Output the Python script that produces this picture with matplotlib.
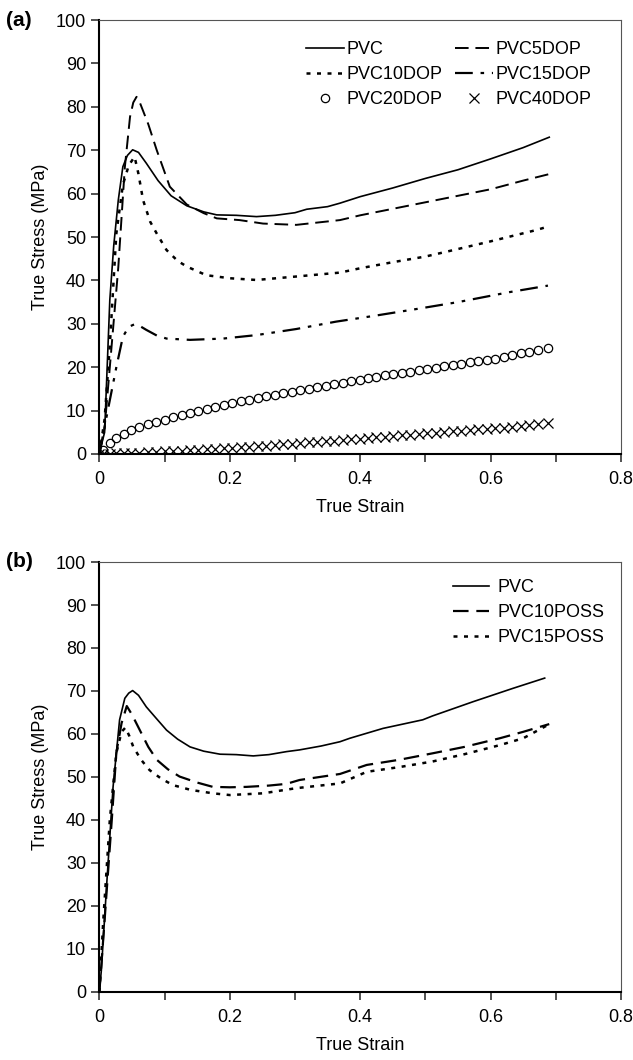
import matplotlib
matplotlib.use("Agg")
import matplotlib.pyplot as plt
from matplotlib.ticker import MultipleLocator, FuncFormatter

plt.rcParams["font.family"] = ["Liberation Sans", "DejaVu Sans"]
plt.rcParams["font.size"] = 13

# ---- panel (a): DOP plasticised PVC ----
pvc_x = [0.0, 0.003, 0.008, 0.016, 0.022, 0.029, 0.036, 0.043, 0.051, 0.06, 0.072, 0.09, 0.11,
         0.134, 0.16, 0.18, 0.21, 0.241, 0.27, 0.3, 0.318, 0.35, 0.369, 0.4, 0.45, 0.5, 0.55,
         0.6, 0.65, 0.69]
pvc_y = [0.0, 2.0, 5.0, 35.5, 48.0, 58.5, 66.2, 68.8, 70.1, 69.5, 67.0, 63.0, 59.5,
         57.2, 55.8, 55.1, 55.0, 54.7, 55.0, 55.6, 56.4, 57.0, 57.8, 59.3, 61.3, 63.5, 65.5,
         68.0, 70.6, 73.0]

dop5_x = [0.0, 0.008, 0.016, 0.029, 0.039, 0.047, 0.052, 0.057, 0.062, 0.075, 0.088, 0.108,
          0.134, 0.16, 0.18, 0.215, 0.251, 0.302, 0.369, 0.4, 0.45, 0.5, 0.55, 0.6, 0.65, 0.69]
dop5_y = [0.0, 6.0, 20.0, 43.0, 66.0, 77.7, 81.0, 82.3, 81.0, 76.0, 70.0, 61.6,
          57.5, 55.5, 54.3, 53.9, 53.1, 52.8, 53.9, 55.0, 56.5, 58.0, 59.5, 61.0, 63.0, 64.5]

dop10_x = [0.0, 0.008, 0.016, 0.026, 0.036, 0.045, 0.054, 0.06, 0.067, 0.078, 0.088, 0.103,
           0.12, 0.134, 0.164, 0.2, 0.241, 0.302, 0.369, 0.4, 0.45, 0.5, 0.532, 0.6, 0.67, 0.69]
dop10_y = [0.0, 8.0, 25.0, 50.8, 62.0, 66.5, 68.5, 64.5, 58.5, 53.5, 50.8, 47.0,
           44.5, 43.2, 41.2, 40.5, 40.1, 40.9, 41.8, 42.8, 44.2, 45.5, 46.6, 49.0, 51.6, 52.5]

dop15_x = [0.0, 0.011, 0.026, 0.036, 0.045, 0.054, 0.062, 0.072, 0.088, 0.103, 0.139, 0.19,
           0.241, 0.302, 0.363, 0.42, 0.486, 0.55, 0.629, 0.688]
dop15_y = [0.0, 8.6, 20.0, 27.0, 29.3, 29.9, 29.5, 28.6, 27.3, 26.6, 26.3, 26.6,
           27.4, 28.8, 30.5, 31.8, 33.4, 35.0, 37.3, 38.8]

marker_x = [0.0, 0.005, 0.016, 0.026, 0.037, 0.049, 0.061, 0.074, 0.087, 0.1, 0.113, 0.126,
            0.139, 0.152, 0.165, 0.178, 0.191, 0.204, 0.217, 0.23, 0.243, 0.256, 0.269,
            0.282, 0.295, 0.308, 0.321, 0.334, 0.347, 0.36, 0.373, 0.386, 0.399, 0.412,
            0.425, 0.438, 0.451, 0.464, 0.477, 0.49, 0.503, 0.516, 0.529, 0.542, 0.555,
            0.568, 0.581, 0.594, 0.607, 0.62, 0.633, 0.646, 0.659, 0.672, 0.688]
dop20_y = [0.0, 1.0, 2.5, 3.6, 4.6, 5.5, 6.2, 6.8, 7.4, 7.9, 8.5, 9.0,
           9.5, 10.0, 10.4, 10.9, 11.3, 11.7, 12.1, 12.5, 12.9, 13.3, 13.6,
           14.0, 14.4, 14.7, 15.0, 15.4, 15.7, 16.1, 16.4, 16.8, 17.1, 17.4,
           17.8, 18.1, 18.4, 18.7, 19.0, 19.3, 19.6, 19.9, 20.2, 20.5, 20.8,
           21.1, 21.4, 21.7, 22.0, 22.4, 22.8, 23.2, 23.6, 24.0, 24.4]
dop40_y = [0.0, 0.05, 0.1, 0.15, 0.2, 0.25, 0.3, 0.4, 0.5, 0.6, 0.65, 0.75,
           0.85, 0.95, 1.05, 1.15, 1.3, 1.4, 1.5, 1.65, 1.8, 1.95, 2.1,
           2.2, 2.35, 2.5, 2.65, 2.8, 2.95, 3.1, 3.25, 3.4, 3.55, 3.7,
           3.85, 4.0, 4.15, 4.3, 4.45, 4.6, 4.75, 4.9, 5.05, 5.2, 5.35,
           5.5, 5.65, 5.8, 5.95, 6.1, 6.3, 6.5, 6.7, 6.9, 7.2]

# ---- panel (b): POSS filled PVC ----
pvcb_x = [0.0, 0.003, 0.011, 0.021, 0.031, 0.039, 0.045, 0.051, 0.06, 0.072, 0.088, 0.103,
          0.12, 0.139, 0.16, 0.185, 0.21, 0.236, 0.26, 0.287, 0.307, 0.34, 0.369, 0.384,
          0.435, 0.496, 0.511, 0.573, 0.634, 0.683]
pvcb_y = [0.0, 5.0, 24.5, 47.7, 63.3, 68.3, 69.5, 70.1, 69.0, 66.3, 63.5, 60.9,
          58.8, 57.0, 56.0, 55.3, 55.2, 54.9, 55.2, 55.9, 56.3, 57.2, 58.2, 59.0,
          61.3, 63.3, 64.2, 67.5, 70.6, 73.0]

poss10_x = [0.0, 0.008, 0.019, 0.026, 0.034, 0.042, 0.05, 0.062, 0.075, 0.088, 0.105, 0.123,
            0.15, 0.174, 0.2, 0.226, 0.26, 0.287, 0.307, 0.369, 0.41, 0.46, 0.511, 0.56,
            0.614, 0.65, 0.69]
poss10_y = [0.0, 16.7, 40.0, 55.6, 62.5, 66.5, 64.5, 60.9, 57.0, 54.0, 51.8, 50.1,
            48.7, 47.7, 47.6, 47.7, 48.0, 48.4, 49.3, 50.7, 52.8, 54.0, 55.5, 57.0,
            59.0, 60.5, 62.3]

poss15_x = [0.0, 0.006, 0.016, 0.026, 0.034, 0.04, 0.046, 0.052, 0.064, 0.077, 0.095, 0.113,
            0.14, 0.174, 0.2, 0.251, 0.302, 0.369, 0.41, 0.46, 0.511, 0.56, 0.614, 0.65,
            0.688]
poss15_y = [0.0, 16.7, 40.0, 55.6, 60.5, 61.5, 59.5, 57.0, 54.0, 51.6, 49.6, 48.1,
            47.0, 46.2, 45.8, 46.2, 47.4, 48.5, 51.2, 52.3, 53.6, 55.3, 57.4, 59.0,
            62.1]

fig = plt.figure(figsize=(6.33, 10.6), dpi=100)
ax_a = fig.add_axes([0.157, 0.5717, 0.824, 0.4094])
ax_b = fig.add_axes([0.157, 0.0642, 0.824, 0.4056])

dash = (0, (7, 3.5))
dot = (0, (1.6, 2.6))
dashdotdot = (0, (8, 3.5, 1.6, 3.5, 1.6, 3.5))

l_pvc, = ax_a.plot(pvc_x, pvc_y, color="black", lw=1.2, label="PVC")
l_5, = ax_a.plot(dop5_x, dop5_y, color="black", lw=1.4, ls=dash, label="PVC5DOP")
l_10, = ax_a.plot(dop10_x, dop10_y, color="black", lw=1.8, ls=dot, label="PVC10DOP")
l_15, = ax_a.plot(dop15_x, dop15_y, color="black", lw=1.6, ls=dashdotdot, label="PVC15DOP")
l_20, = ax_a.plot(marker_x, dop20_y, ls="none", marker="o", ms=6, mfc="none", mec="black",
                  mew=0.9, label="PVC20DOP")
l_40, = ax_a.plot(marker_x, dop40_y, ls="none", marker="x", ms=7, mec="black", mew=0.9,
                  label="PVC40DOP")

ax_b.plot(pvcb_x, pvcb_y, color="black", lw=1.2, label="PVC")
ax_b.plot(poss10_x, poss10_y, color="black", lw=1.6, ls=dash, label="PVC10POSS")
ax_b.plot(poss15_x, poss15_y, color="black", lw=1.8, ls=dot, label="PVC15POSS")

for ax in (ax_a, ax_b):
    ax.set_xlim(0, 0.8)
    ax.set_ylim(0, 100)
    ax.xaxis.set_major_locator(MultipleLocator(0.2))
    ax.xaxis.set_minor_locator(MultipleLocator(0.1))
    ax.yaxis.set_major_locator(MultipleLocator(10))
    ax.xaxis.set_major_formatter(FuncFormatter(lambda v, p: "0" if v == 0 else f"{v:g}"))
    ax.tick_params(axis="both", which="both", direction="out", length=5.5, width=1.1,
                   labelsize=13, color="#222222")
    ax.tick_params(axis="y", pad=4)
    ax.tick_params(axis="x", pad=7)
    ax.spines["left"].set_linewidth(1.5)
    ax.spines["bottom"].set_linewidth(1.5)
    ax.spines["top"].set_color("#555555")
    ax.spines["right"].set_color("#555555")
    ax.set_xlabel("True Strain", fontsize=13, labelpad=8)
    ax.set_ylabel("True Stress (MPa)", fontsize=13, labelpad=5)

# row-wise order like the original two-column legend
ax_a.legend([l_pvc, l_10, l_20, l_5, l_15, l_40],
            ["PVC", "PVC10DOP", "PVC20DOP", "PVC5DOP", "PVC15DOP", "PVC40DOP"],
            ncol=2, loc="upper right", frameon=False, fontsize=13, handlelength=2.1,
            columnspacing=0.7, handletextpad=0.15, labelspacing=0.45, borderpad=0,
            borderaxespad=0, bbox_to_anchor=(0.944, 0.952))
ax_b.legend(ncol=1, loc="upper right", frameon=False, fontsize=13, handlelength=2.0,
            handletextpad=0.5, labelspacing=0.45, borderpad=0, borderaxespad=0,
            bbox_to_anchor=(0.969, 0.96))

fig.text(0.01, 0.981, "(a)", fontsize=15, fontweight="bold", va="center")
fig.text(0.01, 0.470, "(b)", fontsize=15, fontweight="bold", va="center")

fig.savefig("out.png", dpi=100)
